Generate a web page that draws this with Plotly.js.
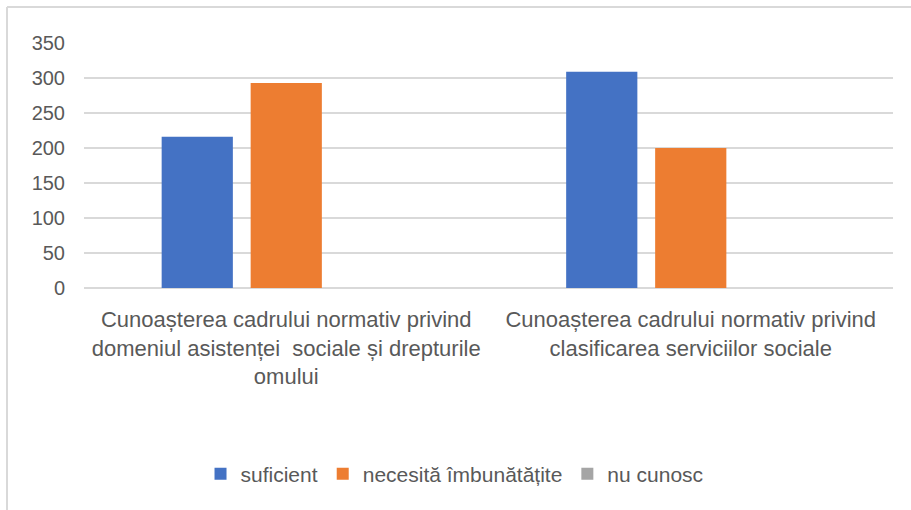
<!DOCTYPE html>
<html>
<head>
<meta charset="utf-8">
<script src="https://cdn.plot.ly/plotly-3.0.1.min.js"></script>
<style>html,body{margin:0;padding:0;background:#fff;}#chart{width:911px;height:510px;}</style>
</head>
<body>
<div id="chart"></div>
<script>
const categories = [
  "Cunoașterea cadrului normativ privind<br>domeniul asistenței  sociale și drepturile<br>omului",
  "Cunoașterea cadrului normativ privind<br>clasificarea serviciilor sociale"
];
const seriesNames = ["suficient", "necesită îmbunătățite", "nu cunosc"];
const suficient = [216, 309];
const necesita = [293, 200];
const nuCunosc = [0, 0];
const colors = ["#4472C4", "#ED7D31", "#A5A5A5"];
const yTicks = [0, 50, 100, 150, 200, 250, 300, 350];

const values = [suficient, necesita, nuCunosc];
const traces = values.map((v, i) => ({
  type: "bar",
  name: seriesNames[i],
  x: categories,
  y: v,
  marker: {color: colors[i], line: {width: 0}},
  hoverinfo: "none"
}));

const font = "Liberation Sans, Arial, sans-serif";
const layout = {
  width: 911, height: 510,
  margin: {l: 84, r: 18, t: 43, b: 222},
  paper_bgcolor: "#ffffff",
  plot_bgcolor: "#ffffff",
  barmode: "group",
  bargap: 0.34,
  bargroupgap: 0.2,
  font: {family: font, color: "#595959", size: 20},
  xaxis: {
    type: "category",
    showgrid: false, zeroline: false, showline: false,
    ticks: "", tickfont: {size: 22, color: "#595959"},
    ticklabelstandoff: 16
  },
  yaxis: {
    range: [0, 350],
    tickvals: yTicks,
    showgrid: true, gridcolor: "#D9D9D9", gridwidth: 2,
    zeroline: true, zerolinecolor: "#D9D9D9", zerolinewidth: 2,
    showline: false, ticks: "",
    tickfont: {size: 20, color: "#595959"},
    ticklabelstandoff: 18
  },
  legend: {
    orientation: "h",
    x: 0.458, xanchor: "center",
    y: -0.76, yanchor: "middle",
    font: {size: 21, color: "#595959"},
    itemwidth: 30,
    tracegroupgap: 0
  },
  showlegend: true,
  shapes: [
    {type: "line", xref: "paper", yref: "paper", x0: -0.0952, x1: -0.0952, y0: 1.147, y1: -0.91, line: {color: "#D9D9D9", width: 2}},
    {type: "line", xref: "paper", yref: "paper", x0: -0.0952, x1: 1.03, y0: 1.147, y1: 1.147, line: {color: "#D9D9D9", width: 2}}
  ]
};

Plotly.newPlot("chart", traces, layout, {displayModeBar: false, staticPlot: true});
</script>
</body>
</html>
